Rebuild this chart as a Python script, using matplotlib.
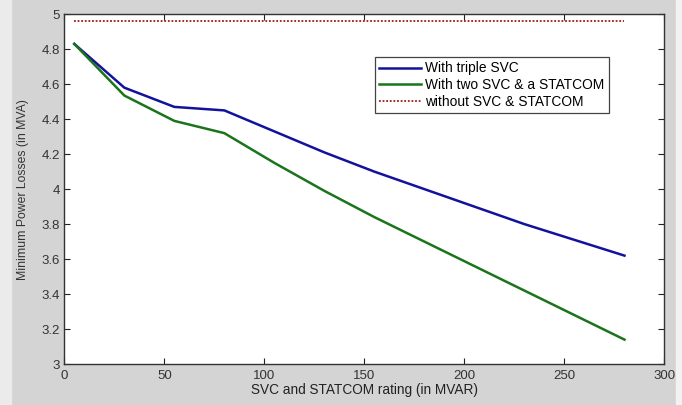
import matplotlib
matplotlib.use("Agg")
import matplotlib.pyplot as plt
from matplotlib.patches import Rectangle

# SVC / STATCOM rating (MVAR)
rating = [5, 30, 55, 80, 105, 130, 155, 180, 205, 230, 255, 280]

# Minimum power losses (MVA)
triple_svc = [4.83, 4.58, 4.47, 4.45, 4.33, 4.21, 4.10, 4.00, 3.90, 3.80, 3.71, 3.62]
two_svc_statcom = [4.83, 4.535, 4.39, 4.32, 4.15, 3.99, 3.84, 3.70, 3.56, 3.42, 3.28, 3.14]
without_svc = [4.96] * len(rating)

x_ticks = [0, 50, 100, 150, 200, 250, 300]
y_ticks = [3, 3.2, 3.4, 3.6, 3.8, 4, 4.2, 4.4, 4.6, 4.8, 5]

plt.rcParams["font.family"] = ["Liberation Sans", "DejaVu Sans"]

fig = plt.figure(figsize=(6.82, 4.05), dpi=100, facecolor="#d4d4d4")
# light strips at the left and right edges of the screenshot
fig.add_artist(Rectangle((0, 0), 11 / 682, 1, transform=fig.transFigure,
                         color="#ebebeb", zorder=0))
fig.add_artist(Rectangle((676 / 682, 0), 6 / 682, 1, transform=fig.transFigure,
                         color="#f2f2f2", zorder=0))

ax = fig.add_axes([0.0943, 0.101, 0.880, 0.864])

ax.plot(rating, triple_svc, color="#12129c", linewidth=1.8, label="With triple SVC")
ax.plot(rating, two_svc_statcom, color="#1b741b", linewidth=1.8,
        label="With two SVC & a STATCOM")
ax.plot(rating, without_svc, color="#a01a1a", linewidth=1.3, linestyle=(0, (1, 1)),
        label="without SVC & STATCOM")

ax.set_xlim(0, 300)
ax.set_ylim(3, 5)
ax.set_xticks(x_ticks)
ax.set_yticks(y_ticks)
ax.set_xticklabels([str(v) for v in x_ticks])
ax.set_yticklabels([f"{v:g}" for v in y_ticks])
ax.tick_params(direction="in", top=True, right=True, labelsize=9.5, length=4,
               colors="#222222", labelcolor="#333333", pad=3)
ax.tick_params(axis="x", pad=4)
for s in ax.spines.values():
    s.set_color("#333333")
    s.set_linewidth(1.0)

ax.set_xlabel("SVC and STATCOM rating (in MVAR)", fontsize=9.8, color="#222222",
              labelpad=1)
ax.set_ylabel("Minimum Power Losses (in MVA)", fontsize=8.8, color="#333333",
              labelpad=9)

leg = ax.legend(loc="upper left", bbox_to_anchor=(0.518, 0.877), fontsize=9.9,
                fancybox=False, framealpha=1, edgecolor="#444444",
                handlelength=3.0, handletextpad=0.35, borderpad=0.3,
                labelspacing=0.2, borderaxespad=0)
leg.get_frame().set_linewidth(0.9)

fig.savefig("out.png", dpi=100, facecolor=fig.get_facecolor())
